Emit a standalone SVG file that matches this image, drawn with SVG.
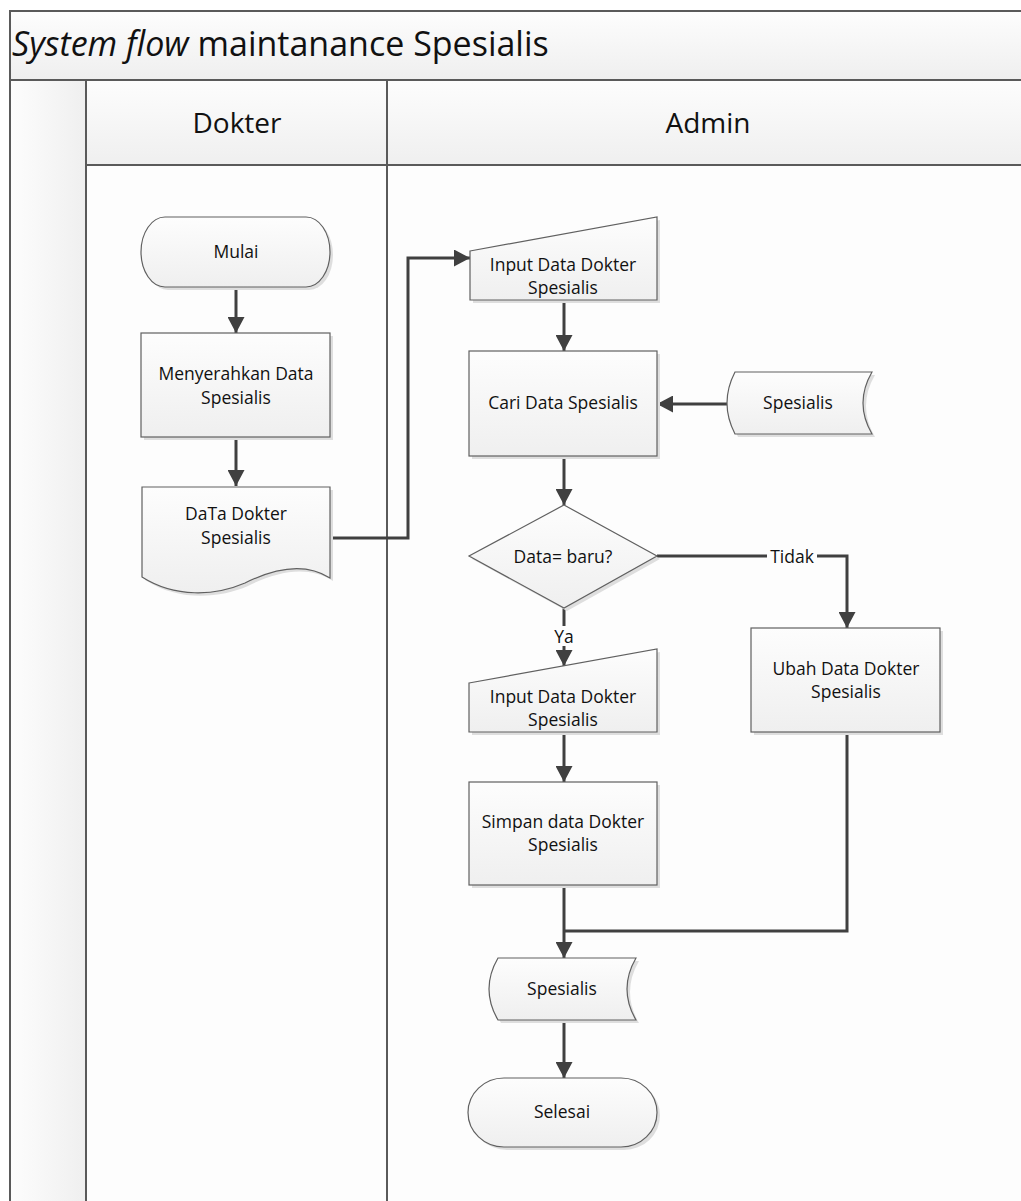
<svg xmlns="http://www.w3.org/2000/svg" width="1021" height="1201" viewBox="0 0 1021 1201">
<defs>
<linearGradient id="gv" x1="0" y1="0" x2="0" y2="1"><stop offset="0" stop-color="#fdfdfd"/><stop offset="1" stop-color="#efefef"/></linearGradient>
<linearGradient id="gh" x1="0" y1="0" x2="1" y2="0"><stop offset="0" stop-color="#fdfdfd"/><stop offset="1" stop-color="#efefef"/></linearGradient>
<marker id="arr" markerUnits="userSpaceOnUse" markerWidth="17" markerHeight="17" refX="16" refY="8.5" orient="auto"><path d="M0,0 L16,8.5 L0,17 Z" fill="#404040"/></marker>
<style>
.shape{fill:url(#gv);stroke:#606060;stroke-width:1.2}
.shadow{fill:#dedede;stroke:none}
.t{font-family:"Open Sans","Liberation Sans",sans-serif;font-size:17.5px;fill:#111;text-anchor:middle}
.hdr{font-family:"Open Sans","Liberation Sans",sans-serif;font-size:28px;fill:#111;text-anchor:middle}
.ttl{font-family:"Open Sans","Liberation Sans",sans-serif;font-size:34px;fill:#111}
.con{fill:none;stroke:#404040;stroke-width:3}
.arrow{marker-end:url(#arr)}
.lane{fill:none;stroke:#5a5a5a;stroke-width:2}
.lbl{fill:#fdfdfd}
</style>
</defs>
<g id="pool">
<rect x="10" y="11" width="1015" height="1195" fill="#fdfdfd"/>
<rect x="10" y="11" width="1015" height="69" fill="url(#gv)"/>
<rect x="10" y="80" width="76" height="1125" fill="url(#gh)"/>
<rect x="86" y="80" width="939" height="85" fill="url(#gv)"/>
<path class="lane" d="M1025,11 H10 V1205"/>
<path class="lane" d="M10,80 H1025"/>
<path class="lane" d="M86,80 V1205"/>
<path class="lane" d="M86,165 H1025"/>
<path class="lane" d="M387,80 V1205"/>
<text class="ttl" x="12" y="56"><tspan font-style="italic">System flow</tspan> maintanance Spesialis</text>
<text class="hdr" x="237" y="133">Dokter</text>
<text class="hdr" x="708" y="133">Admin</text>
</g>
<g id="connectors">
<path class="con arrow" d="M236,287 V333"/>
<path class="con arrow" d="M236,437 V486"/>
<path class="con arrow" d="M330,538 H408 V258 H470"/>
<path class="con arrow" d="M564,300 V351"/>
<path class="con arrow" d="M727,404 H657"/>
<path class="con arrow" d="M564,456 V505"/>
<path class="con arrow" d="M657,556 H847 V628"/>
<path class="con arrow" d="M564,608 V666"/>
<path class="con arrow" d="M564,732 V782"/>
<path class="con" d="M847,732 V931 H564"/>
<path class="con arrow" d="M564,885 V958"/>
<path class="con arrow" d="M564,1020 V1078"/>
<rect class="lbl" x="767" y="546" width="50" height="20"/>
<text class="t" x="792" y="563">Tidak</text>
<rect class="lbl" x="551" y="626" width="26" height="20"/>
<text class="t" x="564" y="643">Ya</text>
</g>
<g id="mulai">
<rect class="shadow" x="144" y="220" width="189" height="70" rx="24" ry="35"/>
<rect class="shape" x="141" y="217" width="189" height="70" rx="24" ry="35"/>
<text class="t" x="236" y="258">Mulai</text>
</g>
<g id="menyerahkan">
<rect class="shadow" x="144" y="336" width="189" height="104"/>
<rect class="shape" x="141" y="333" width="189" height="104"/>
<text class="t" x="236" y="380">Menyerahkan Data</text>
<text class="t" x="236" y="404">Spesialis</text>
</g>
<g id="dokumen">
<path class="shadow" transform="translate(3,3)" d="M142,487 H330 V578 C305,562 275,568 245,583 C215,596 175,598 142,577 Z"/>
<path class="shape" d="M142,487 H330 V578 C305,562 275,568 245,583 C215,596 175,598 142,577 Z"/>
<text class="t" x="236" y="520">DaTa Dokter</text>
<text class="t" x="236" y="544">Spesialis</text>
</g>
<g id="input1">
<path class="shadow" transform="translate(3,3)" d="M470,251 L657,217 V300 H470 Z"/>
<path class="shape" d="M470,251 L657,217 V300 H470 Z"/>
<text class="t" x="563" y="271">Input Data Dokter</text>
<text class="t" x="563" y="294">Spesialis</text>
</g>
<g id="cari">
<rect class="shadow" x="472" y="354" width="188" height="105"/>
<rect class="shape" x="469" y="351" width="188" height="105"/>
<text class="t" x="563" y="409">Cari Data Spesialis</text>
</g>
<g id="spesialis1">
<path class="shadow" transform="translate(3,3)" d="M735,372 H872 Q854,403 872,434 H735 Q719,403 735,372 Z"/>
<path class="shape" d="M735,372 H872 Q854,403 872,434 H735 Q719,403 735,372 Z"/>
<text class="t" x="798" y="409">Spesialis</text>
</g>
<g id="keputusan">
<path class="shadow" transform="translate(3,3)" d="M564,505 L657,556 L564,608 L469,556 Z"/>
<path class="shape" d="M564,505 L657,556 L564,608 L469,556 Z"/>
<text class="t" x="563" y="563">Data= baru?</text>
</g>
<g id="input2">
<path class="shadow" transform="translate(3,3)" d="M469,683 L657,649 V732 H469 Z"/>
<path class="shape" d="M469,683 L657,649 V732 H469 Z"/>
<text class="t" x="563" y="703">Input Data Dokter</text>
<text class="t" x="563" y="726">Spesialis</text>
</g>
<g id="ubah">
<rect class="shadow" x="754" y="631" width="189" height="104"/>
<rect class="shape" x="751" y="628" width="189" height="104"/>
<text class="t" x="846" y="675">Ubah Data Dokter</text>
<text class="t" x="846" y="698">Spesialis</text>
</g>
<g id="simpan">
<rect class="shadow" x="472" y="785" width="188" height="103"/>
<rect class="shape" x="469" y="782" width="188" height="103"/>
<text class="t" x="563" y="828">Simpan data Dokter</text>
<text class="t" x="563" y="851">Spesialis</text>
</g>
<g id="spesialis2">
<path class="shadow" transform="translate(3,3)" d="M498,958 H636 Q618,989 636,1020 H498 Q480,989 498,958 Z"/>
<path class="shape" d="M498,958 H636 Q618,989 636,1020 H498 Q480,989 498,958 Z"/>
<text class="t" x="562" y="995">Spesialis</text>
</g>
<g id="selesai">
<rect class="shadow" x="471" y="1081" width="189" height="69" rx="36" ry="34.5"/>
<rect class="shape" x="468" y="1078" width="189" height="69" rx="36" ry="34.5"/>
<text class="t" x="562" y="1118">Selesai</text>
</g>
</svg>
